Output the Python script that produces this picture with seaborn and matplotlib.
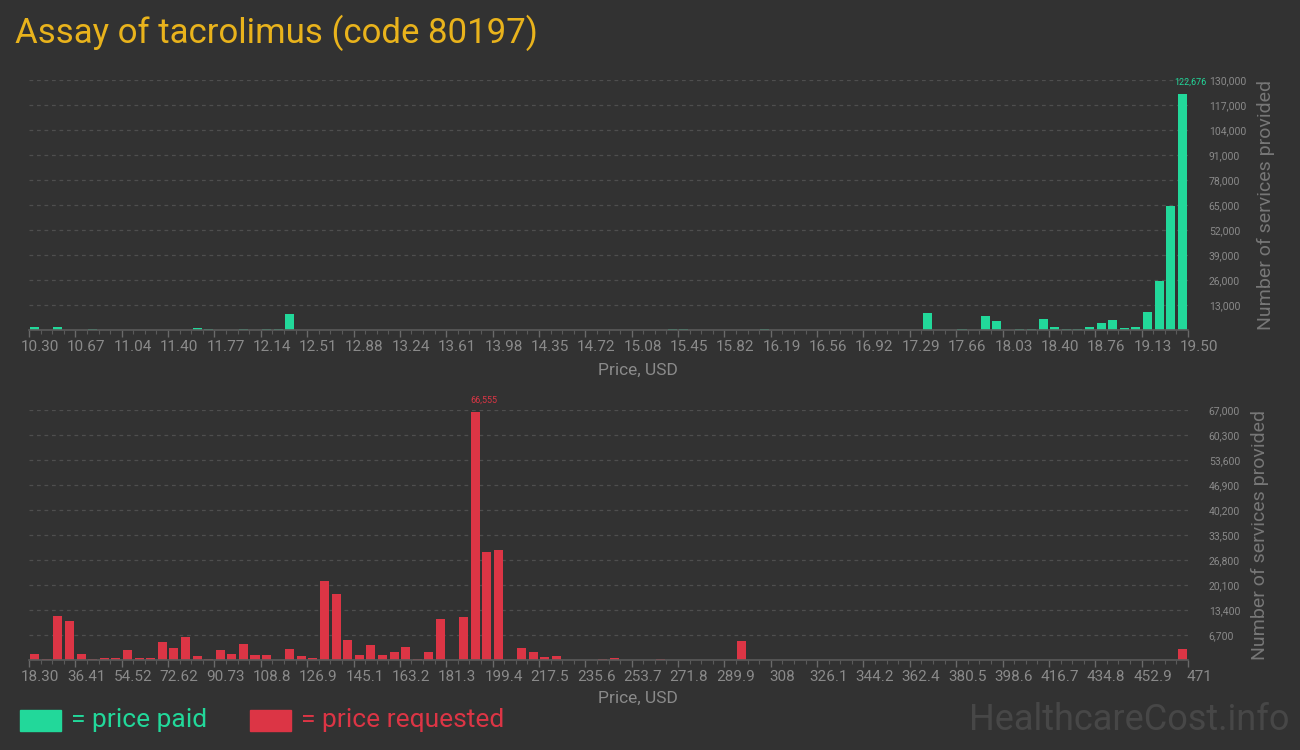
import numpy as np
import pandas as pd
import seaborn as sns
import matplotlib.pyplot as plt
from matplotlib.patches import Rectangle
from matplotlib.ticker import FixedLocator
from matplotlib.transforms import ScaledTranslation

# chart text
title = "Assay of tacrolimus (code 80197)"
x_title = "Price, USD"
y_title = "Number of services provided"
paid_label = "= price paid"
req_label = "= price requested"
watermark = "HealthcareCost.info"

# price paid: 100 bins between 10.30 and 19.50
paid_range = (10.30, 19.50)
paid_bins = [0, 2, 5, 14, 15, 18, 20, 21, 22, 55, 56, 63, 77, 80, 82, 83, 85, 86,
             87, 88, 89, 90, 91, 92, 93, 94, 95, 96, 97, 98, 99]
paid_counts = [1500, 1500, 500, 900, 400, 300, 300, 300, 8500, 400, 400, 300, 8700,
               400, 7300, 4500, 400, 400, 5500, 1400, 500, 500, 1400, 3500, 5400,
               900, 1800, 9600, 25600, 64600, 122676]
paid_ticks = ["10.30", "10.67", "11.04", "11.40", "11.77", "12.14", "12.51", "12.88",
              "13.24", "13.61", "13.98", "14.35", "14.72", "15.08", "15.45", "15.82",
              "16.19", "16.56", "16.92", "17.29", "17.66", "18.03", "18.40", "18.76",
              "19.13", "19.50"]
paid_yticks = [13000, 26000, 39000, 52000, 65000, 78000, 91000, 104000, 117000, 130000]

# price requested: 100 bins between 18.30 and 471
req_range = (18.30, 471.0)
req_bins = [0, 1, 2, 3, 4, 5, 6, 7, 8, 9, 10, 11, 12, 13, 14, 15, 16, 17, 18, 19, 20,
            22, 23, 24, 25, 26, 27, 28, 29, 30, 31, 32, 33, 34, 35, 37, 38, 39, 40,
            42, 43, 44, 45, 49, 50, 54, 61, 99]
req_counts = [1500, 300, 11700, 10400, 1500, 300, 450, 450, 2600, 450, 450, 4700,
              3100, 6100, 1000, 300, 2600, 1500, 4200, 1250, 1250, 2900, 1000, 450,
              21100, 17600, 5300, 1250, 3900, 1250, 2050, 3400, 200, 2050, 10900,
              11400, 66555, 28900, 29400, 3100, 2050, 700, 1000, 200, 450, 200, 5000,
              2850]
req_ticks = ["18.30", "36.41", "54.52", "72.62", "90.73", "108.8", "126.9", "145.1",
             "163.2", "181.3", "199.4", "217.5", "235.6", "253.7", "271.8", "289.9",
             "308", "326.1", "344.2", "362.4", "380.5", "398.6", "416.7", "434.8",
             "452.9", "471"]
req_yticks = [6700, 13400, 20100, 26800, 33500, 40200, 46900, 53600, 60300, 67000]

bg = "#323232"
green = "#22d89a"
red = "#dc3545"
gold = "#e9b31c"
grey = "#8a8a8a"
n_bins = 100

sns.set_theme(style="dark")
plt.rcParams["font.family"] = ["Roboto", "DejaVu Sans"]

fig = plt.figure(figsize=(13, 7.5), dpi=100, facecolor=bg)
ax_top = fig.add_axes([29 / 1300, 420 / 750, 1159 / 1300, 250 / 750])
ax_bot = fig.add_axes([29 / 1300, 90 / 750, 1159 / 1300, 250 / 750])


def hist_panel(ax, rng, bins, counts, ticks, yticks, color, label_y):
    lo, hi = rng
    step = (hi - lo) / n_bins
    df = pd.DataFrame({"price": [lo + (b + 0.5) * step for b in bins], "count": counts})
    sns.barplot(data=df, x="price", y="count", native_scale=True, color=color,
                saturation=1, width=0.78, errorbar=None, linewidth=0, ax=ax)
    ax.set_facecolor(bg)
    ax.set_xlim(lo, hi)
    ax.set_ylim(0, yticks[-1])
    for s in ["top", "left", "right"]:
        ax.spines[s].set_visible(False)
    ax.spines["bottom"].set_color("#5a5a5a")
    ax.spines["bottom"].set_linewidth(1.2)

    ax.xaxis.set_major_locator(FixedLocator(np.linspace(lo, hi, len(ticks))))
    ax.set_xticklabels(ticks)
    ax.xaxis.set_minor_locator(FixedLocator(np.linspace(lo, hi, n_bins + 1)))
    ax.tick_params(axis="x", which="major", bottom=True, length=5, width=1,
                   color="#6a6a6a", labelcolor=grey, labelsize=11, pad=2)
    ax.tick_params(axis="x", which="minor", bottom=True, length=3, width=0.8,
                   color="#5a5a5a")
    shift = ScaledTranslation(11 / 100, 0, fig.dpi_scale_trans)
    for lab in ax.get_xticklabels():
        lab.set_transform(lab.get_transform() + shift)

    ax.yaxis.tick_right()
    ax.set_yticks(yticks)
    ax.set_yticklabels([f"{v:,}" for v in yticks])
    ax.tick_params(axis="y", length=0, labelcolor=grey, labelsize=7.5, pad=15)
    ax.grid(axis="y", color="#4e4e4e", linestyle=(0, (3, 3)), linewidth=0.9)
    ax.grid(axis="x", visible=False)

    ax.set_xlabel(x_title, color=grey, fontsize=12.5, labelpad=5)
    ax.xaxis.set_label_coords(0.525, label_y)
    ax.yaxis.set_label_position("right")
    ax.set_ylabel(y_title, color="#777777", fontsize=14, labelpad=8)

    top = int(np.argmax(counts))
    ax.annotate(f"{counts[top]:,}", xy=(df["price"][top], counts[top]),
                xytext=(6, 5), textcoords="offset points", ha="center",
                va="bottom", color=color, fontsize=6.5)


hist_panel(ax_top, paid_range, paid_bins, paid_counts, paid_ticks, paid_yticks,
           green, -0.13)
hist_panel(ax_bot, req_range, req_bins, req_counts, req_ticks, req_yticks,
           red, -0.125)

fig.text(15 / 1300, 1 - 33 / 750, title, color=gold, fontsize=25,
         va="center", ha="left")

# legend
fig.patches.append(Rectangle((20 / 1300, 1 - 731 / 750), 41 / 1300, 21 / 750,
                             transform=fig.transFigure, color=green))
fig.text(71 / 1300, 1 - 720 / 750, paid_label, color=green, fontsize=19,
         va="center", ha="left")
fig.patches.append(Rectangle((250 / 1300, 1 - 731 / 750), 41 / 1300, 21 / 750,
                             transform=fig.transFigure, color=red))
fig.text(301 / 1300, 1 - 720 / 750, req_label, color=red, fontsize=19,
         va="center", ha="left")
fig.text(1290 / 1300, 1 - 720 / 750, watermark, color="#474747", fontsize=26,
         va="center", ha="right")

fig.savefig("out.png", dpi=100, facecolor=bg)
